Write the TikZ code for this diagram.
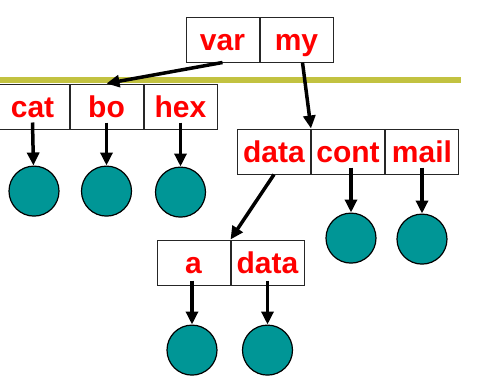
\documentclass[tikz,border=0pt]{standalone}
\usepackage{fontspec}
\setmainfont{Liberation Sans}
\usetikzlibrary{arrows.meta,positioning}

\definecolor{olive}{RGB}{194,194,64}
\definecolor{teal}{RGB}{0,150,150}

\begin{document}
\begin{tikzpicture}[
    x=1pt, y=-1pt,
    node distance=0pt,
    cell/.style={rectangle, draw=black!85, line width=1pt, minimum width=73pt, minimum height=45pt,
        inner sep=0pt, text height=22pt, text depth=0pt, text=red, font=\fontsize{30}{30}\selectfont\bfseries},
    leaf/.style={circle, draw=black, line width=1.2pt, fill=teal, minimum size=50pt, inner sep=0pt},
    ptr/.style={-{Triangle[length=13pt,width=12pt]}, line width=3.5pt}
]
    \useasboundingbox (0,0) rectangle (480,381);

    % separator rule
    \coordinate (ruleL) at (0,79.5);
    \coordinate (ruleR) at (461,79.5);
    \draw[olive, line width=6pt] (ruleL) -- (ruleR);

    % top record
    \node[cell] (var) at (222.5,39.5) {var};
    \node[cell, right=of var] (my) {my};

    % second record
    \node[cell] (bo) at (106.5,106.5) {bo};
    \node[cell, left=of bo] (cat) {cat};
    \node[cell, right=of bo] (hex) {hex};

    % third record
    \node[cell] (data) at (274,151.5) {data};
    \node[cell, right=of data] (cont) {cont};
    \node[cell, right=of cont] (mail) {mail};

    % fourth record
    \node[cell] (a) at (193.5,262.5) {a};
    \node[cell, right=of a] (data2) {data};

    % leaves
    \node[leaf, below=36pt of cat, xshift=1.5pt] (lcat) {};
    \node[leaf, below=36pt of bo] (lbo) {};
    \node[leaf, below=37pt of hex] (lhex) {};
    \node[leaf, below=38pt of cont, xshift=3pt] (lcont) {};
    \node[leaf, below=39pt of mail] (lmail) {};
    \node[leaf, below=39pt of a, xshift=-1.5pt] (la) {};
    \node[leaf, below=39pt of data2] (ldata) {};

    \draw[ptr] (var.south) -- (bo.north);
    \draw[ptr] ([xshift=6pt]my.south) -- (data.north east);
    \draw[ptr] (data.south) -- (a.north east);

    \draw[ptr] ([yshift=7pt]cat.south) -- (lcat);
    \draw[ptr] ([yshift=7pt]bo.south) -- (lbo);
    \draw[ptr] ([yshift=7pt]hex.south) -- (lhex);
    \draw[ptr] ([yshift=7pt,xshift=3pt]cont.south) -- (lcont);
    \draw[ptr] ([yshift=7pt]mail.south) -- (lmail);
    \draw[ptr] ([yshift=5pt,xshift=-1.5pt]a.south) -- (la);
    \draw[ptr] ([yshift=5pt]data2.south) -- (ldata);
\end{tikzpicture}
\end{document}
